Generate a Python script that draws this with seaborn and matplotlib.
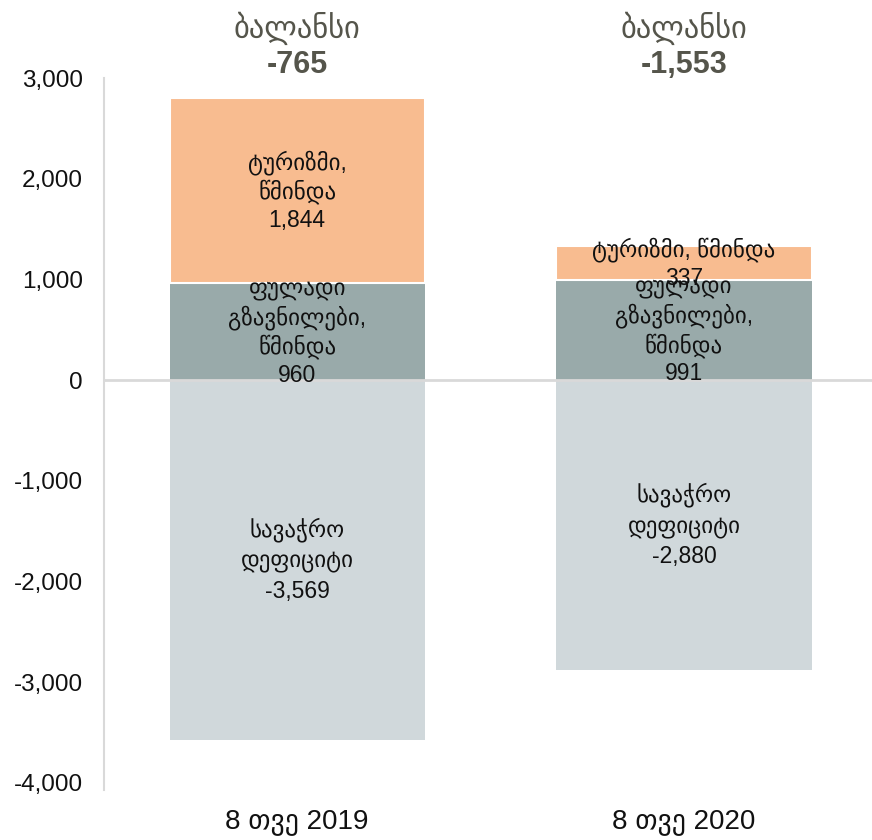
import matplotlib
matplotlib.use("Agg")
import matplotlib.pyplot as plt
import matplotlib.transforms as mtransforms
from matplotlib.ticker import FuncFormatter
import seaborn as sns

# Current account components, USD mn
periods = ["8 თვე 2019", "8 თვე 2020"]
remittances = [960, 991]
tourism = [1844, 337]
trade_deficit = [-3569, -2880]
balance = [-765, -1553]

remit_label = "ფულადი\nგზავნილები,\nწმინდა"
tourism_labels = ["ტურიზმი,\nწმინდა", "ტურიზმი, წმინდა"]
deficit_label = "სავაჭრო\nდეფიციტი"
balance_title = "ბალანსი"

sns.set_theme(style="white")
plt.rcParams["font.family"] = ["Liberation Sans", "DejaVu Sans"]

c_tour = "#F8BC90"
c_remit = "#99AAAA"
c_def = "#D0D8DB"

fig = plt.figure(figsize=(8.72, 8.40), dpi=100)
ax = fig.add_axes([0.119, 0.0595, 0.881, 0.8476])

w = 0.66
sns.barplot(x=periods, y=trade_deficit, color=c_def, width=w, ax=ax,
            saturation=1, linewidth=0, zorder=2)
sns.barplot(x=periods, y=remittances, color=c_remit, width=w, ax=ax,
            saturation=1, linewidth=0, zorder=2)
sns.barplot(x=periods, y=tourism, bottom=remittances, color=c_tour, width=w,
            ax=ax, saturation=1, edgecolor="white", linewidth=1.5, zorder=2)

ax.axhline(0, color="#d9d9d9", lw=2, zorder=3)

ax.set_xlim(-0.5, 1.486)
ax.set_ylim(-4070, 3000)
ax.set_yticks(range(-4000, 3001, 1000))
ax.yaxis.set_major_formatter(FuncFormatter(lambda v, p: f"{int(v):,}"))
ax.tick_params(axis="y", length=0, pad=15, labelsize=17.5, labelcolor="#111111")
ax.tick_params(axis="x", length=0, pad=14, labelsize=20, labelcolor="#111111")
ax.set_xlabel("")
ax.set_ylabel("")

for side in ["top", "right", "bottom"]:
    ax.spines[side].set_visible(False)
ax.spines["left"].set_color("#d9d9d9")
ax.spines["left"].set_linewidth(1.5)

lab_kw = dict(ha="center", va="center", fontsize=16.5, color="#111111",
              linespacing=1.25, zorder=4)
for i in range(len(periods)):
    ax.text(i, remittances[i] / 2, f"{remit_label}\n{remittances[i]:,}", **lab_kw)
    ax.text(i, remittances[i] + tourism[i] / 2,
            f"{tourism_labels[i]}\n{tourism[i]:,}", **lab_kw)
    ax.text(i, trade_deficit[i] / 2, f"{deficit_label}\n{trade_deficit[i]:,}",
            **{**lab_kw, "linespacing": 1.4})

trans = mtransforms.blended_transform_factory(ax.transData, ax.transAxes)
for i in range(len(periods)):
    ax.text(i, 1.070, balance_title, transform=trans, ha="center", va="center",
            fontsize=22, color="#55554B", clip_on=False)
    ax.text(i, 1.018, f"{balance[i]:,}", transform=trans, ha="center", va="center",
            fontsize=22, fontweight="bold", color="#55554B", clip_on=False)

fig.savefig("out.png", dpi=100)
